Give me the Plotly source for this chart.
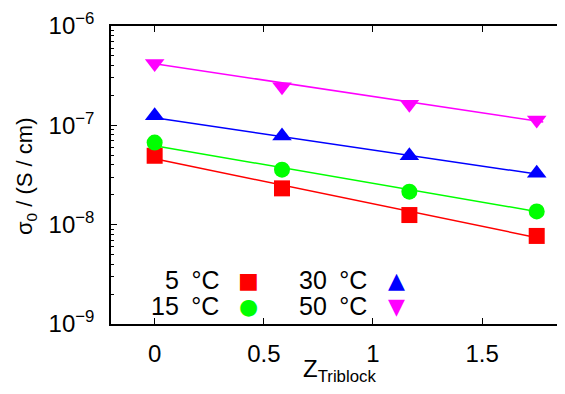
import plotly.graph_objects as go

# ---- data ----
z_triblock = [0.0, 0.5833, 1.1667, 1.75]
sigma_5C = [4.94e-8, 2.32e-8, 1.25e-8, 7.7e-9]
sigma_15C = [6.7e-8, 3.58e-8, 2.15e-8, 1.36e-8]
sigma_30C = [1.25e-7, 7.8e-8, 4.95e-8, 3.3e-8]
sigma_50C = [4.2e-7, 2.45e-7, 1.63e-7, 1.13e-7]

fit_x = [0.0, 1.78]
fit_5C = [4.6e-8, 7.18e-9]
fit_15C = [6.24e-8, 1.32e-8]
fit_30C = [1.19e-7, 3.16e-8]
fit_50C = [4.17e-7, 1.08e-7]

legend_labels = ["5\u2002°C", "15\u2002°C", "30\u2002°C", "50\u2002°C"]
y_tickvals = [1e-9, 1e-8, 1e-7, 1e-6]
y_ticktext = ["10<sup>−9</sup>", "10<sup>−8</sup>", "10<sup>−7</sup>", "10<sup>−6</sup>"]
y_minor = [m * 10.0 ** e for e in (-9, -8, -7) for m in range(2, 10)]
x_tickvals = [0, 0.5, 1, 1.5]
x_ticktext = ["0", "0.5", "1", "1.5"]
x_title = "Z<sub>Triblock</sub>"
y_title = "σ<sub>0</sub> / (S / cm)"

FONT = "Liberation Sans, Arial, sans-serif"
series = [
    (sigma_5C, fit_5C, "#ff0000", "square", 16),
    (sigma_15C, fit_15C, "#00ff00", "circle", 16),
    (sigma_30C, fit_30C, "#0000ff", "triangle-up", 17),
    (sigma_50C, fit_50C, "#ff00ff", "triangle-down", 17),
]

fig = go.Figure()
for (vals, fit, color, sym, size), label in zip(series, legend_labels):
    fig.add_trace(go.Scatter(x=fit_x, y=fit, mode="lines",
                             line=dict(color=color, width=1.5),
                             showlegend=False, hoverinfo="skip"))
    fig.add_trace(go.Scatter(x=z_triblock, y=vals, mode="markers", name=label,
                             marker=dict(symbol=sym, size=size, color=color,
                                         line=dict(width=0)),
                             showlegend=False))

# page has an 8px body margin; figure is sized so the page is filled exactly
OFF = 8
W, H = 565 - OFF, 394 - OFF
ml, mr, mt, mb = 111 - OFF, 1, 26 - OFF, 394 - 324
pw, ph = W - ml - mr, H - mt - mb


def px(x):  # page pixel -> paper fraction
    return (x - OFF - ml) / pw


def py(y):
    return 1 - (y - OFF - mt) / ph


# custom gnuplot-style key: text then symbol
glyphs = ["■", "●", "▲", "▼"]
colors = [s[2] for s in series]
text_x = [221, 221, 369, 369]
sym_x = [248, 248, 396, 396]
row_y = [280, 306, 280, 306]
for lab, g, c, tx, sx, ry in zip(legend_labels, glyphs, colors, text_x, sym_x, row_y):
    fig.add_annotation(x=px(tx), y=py(ry), xref="paper", yref="paper",
                       text=lab, showarrow=False, xanchor="right", yanchor="middle",
                       font=dict(family=FONT, size=25, color="black"))
    fig.add_annotation(x=px(sx), y=py(ry), xref="paper", yref="paper",
                       text=g, showarrow=False, xanchor="center", yanchor="middle",
                       font=dict(family="DejaVu Sans", size=22, color=c))

# axis titles
fig.add_annotation(x=px(339), y=py(353), xref="paper", yref="paper", text=x_title,
                   showarrow=False, xanchor="center", yanchor="top",
                   font=dict(family=FONT, size=24, color="black"))
fig.add_annotation(x=px(26), y=py(177), xref="paper", yref="paper", text=y_title,
                   showarrow=False, xanchor="center", yanchor="middle", textangle=-90,
                   font=dict(family=FONT, size=22, color="black"))

fig.update_layout(
    width=W, height=H,
    margin=dict(l=ml, r=mr, t=mt, b=mb),
    paper_bgcolor="white", plot_bgcolor="white",
    font=dict(family=FONT, size=24, color="black"),
    xaxis=dict(range=[-0.2, 1.875], tickvals=x_tickvals, ticktext=x_ticktext,
               ticks="inside", ticklen=6, tickwidth=1, tickcolor="black",
               ticklabelstandoff=7,
               showline=True, linecolor="black", linewidth=1.5, mirror="ticks",
               showgrid=False, zeroline=False, automargin=False),
    yaxis=dict(type="log", range=[-9, -6], tickvals=y_tickvals, ticktext=y_ticktext,
               ticks="inside", ticklen=6, tickwidth=1, tickcolor="black",
               ticklabelstandoff=10,
               showline=True, linecolor="black", linewidth=1.5, mirror="ticks",
               showgrid=False, zeroline=False, automargin=False,
               minor=dict(tickmode="array", tickvals=y_minor, ticks="inside",
                          ticklen=3, tickwidth=1, tickcolor="black", showgrid=False)),
)

fig.write_html("out.html")
